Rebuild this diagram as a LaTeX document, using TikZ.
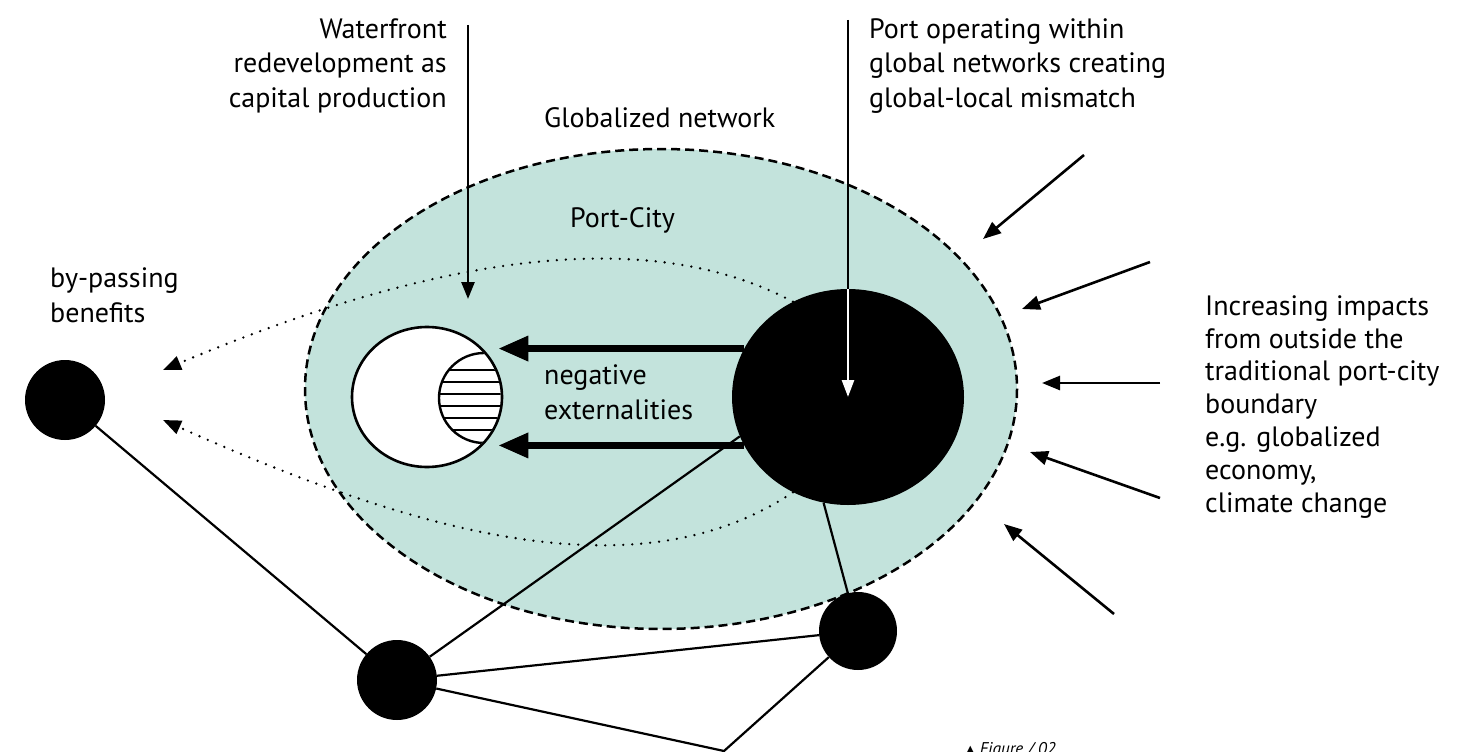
\documentclass[tikz,border=0pt]{standalone}
\usepackage{fontspec}
\setmainfont{PT Sans}
\newfontfamily\symfont{DejaVu Sans}
\usetikzlibrary{arrows.meta,shapes.geometric}
\definecolor{cityfill}{RGB}{195,227,220}
\begin{document}
\begin{tikzpicture}[x=1pt,y=-1pt,
  lbl/.style={inner sep=0pt, font=\fontsize{28}{34.5}\selectfont},
  lblb/.style={inner sep=0pt, font=\fontsize{28}{32.8}\selectfont},
  blob/.style={circle, fill=black, inner sep=0pt},
  netline/.style={line width=2.2pt},
  extarrow/.style={line width=2.6pt, -{Triangle[length=18pt,width=14pt]}},
  thickarrow/.style={line width=6.5pt, -{Triangle[length=30pt,width=24pt]}},
  dotarrow/.style={line width=2.6pt, line cap=round, dash pattern=on 0pt off 9pt, -{Triangle[length=18pt,width=14pt]}}
]
\useasboundingbox (0,0) rectangle (1481,752);

% globalized network / port-city region
\draw[fill=cityfill, line width=2.5pt, dash pattern=on 9pt off 5pt] (661,389) ellipse [x radius=356, y radius=240];

% nodes
\node[ellipse, fill=black, minimum width=232pt, minimum height=216pt, inner sep=0pt] (port) at (848,397) {};
\node[ellipse, fill=white, draw, line width=2.6pt, minimum width=150pt, minimum height=140pt, inner sep=0pt] (wc) at (427,397) {};
\node[blob, minimum size=80pt] (lc) at (65,400) {};
\node[blob, minimum size=80pt] (bl) at (397,680) {};
\node[blob, minimum size=78pt] (br) at (858,631) {};

% hatched part of the waterfront
\begin{scope}
  \clip (427,397) ellipse [x radius=73.7, y radius=68.7];
  \draw[line width=2.4pt] (484,398) circle [radius=45];
  \clip (484,398) circle [radius=45];
  \foreach \yy in {370,382,...,430} \draw[line width=1.3pt] (430,\yy) -- (540,\yy);
\end{scope}

% by-passing benefits (dotted)
\coordinate (byA) at (163,370);
\coordinate (byB) at (163,420);
\draw[dotarrow] (port.120) .. controls (640,220) and (420,262) .. (byA);
\draw[dotarrow] (port.240) .. controls (640,595) and (420,535) .. (byB);

% negative externalities
\draw[thickarrow] (port.155) -- ([xshift=-5pt]port.155 -| wc.east);
\draw[thickarrow] (port.205) -- ([xshift=-5pt]port.205 -| wc.east);

% network links
\coordinate (v) at (724,751);
\draw[netline] (lc) -- (bl);
\draw[netline] (bl) -- (port.200);
\draw[netline] (bl) -- (br);
\draw[netline] (bl) -- (v) -- (br);
\draw[netline] (port.257) -- (br);

% label arrows
\coordinate (wtop) at (468,25);
\coordinate (wtip) at (468,299);
\draw[line width=2.6pt, -{Triangle[length=17pt,width=13pt]}] (wtop) -- (wtip);
\coordinate (ptop) at (848,20);
\draw[line width=2.6pt] (ptop) -- (port.north);
\draw[line width=2.6pt, white, -{Triangle[length=17pt,width=12pt]}] (port.north) -- (port.center);

% impacts from outside
\coordinate (e1s) at (1084,155); \coordinate (e1e) at (983,239);
\coordinate (e2s) at (1150,262); \coordinate (e2e) at (1022,309);
\coordinate (e3s) at (1160,383); \coordinate (e3e) at (1042,383);
\coordinate (e4s) at (1160,498); \coordinate (e4e) at (1030,452);
\coordinate (e5s) at (1114,614); \coordinate (e5e) at (1004,524);
\foreach \i in {1,...,5} \draw[extarrow] (e\i s) -- (e\i e);

% texts (multi-line nodes: base = last line)
\node[lbl, anchor=base east, align=right] (wtxt) at (447,107) {Waterfront\\redevelopment as\\capital production};
\node[lbl, anchor=base west, align=left] (ptxt) at (869,107) {Port operating within\\global networks creating\\global-local mismatch};
\node[lbl, anchor=base west] (gn) at (544,128) {Globalized network};
\node[lbl, anchor=base west] (pc) at (570,227) {Port-City};
\node[lbl, anchor=base west, align=left] (bp) at (50,322) {by-passing\\benefits};
\node[lbl, anchor=base west, align=left] (ne) at (544,419) {negative\\externalities};
\node[lblb, anchor=base west, align=left] (inc) at (1205,512) {Increasing impacts\\from outside the\\traditional port-city\\boundary\\e.g. globalized\\economy,\\climate change};
\node[inner sep=0pt, anchor=base east, font=\fontsize{17}{20}\selectfont\itshape] (cap) at (1056,754) {{\symfont\upshape\fontsize{13}{14}\selectfont ▲}\ Figure / 02};
\end{tikzpicture}
\end{document}
